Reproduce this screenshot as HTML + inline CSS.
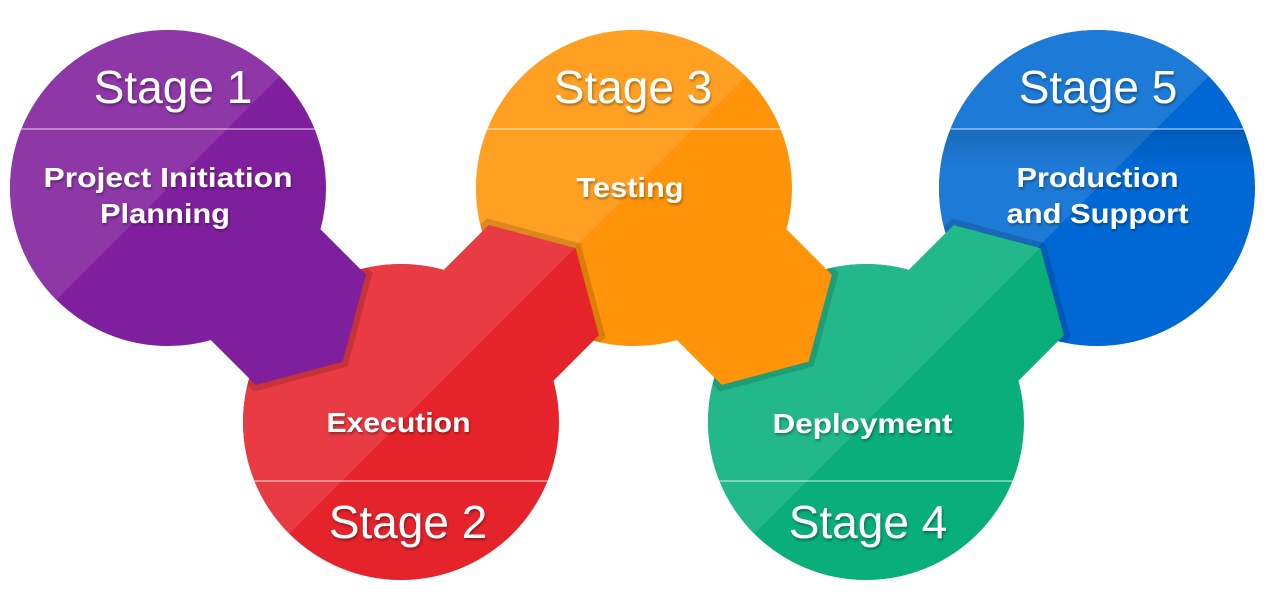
<!DOCTYPE html>
<html>
<head>
<meta charset="utf-8">
<style>
  html, body { margin:0; padding:0; background:#ffffff; width:1269px; height:610px; overflow:hidden; }
  svg { display:block; position:absolute; left:0; top:0; overflow:hidden; }
  .st { font-family:"Liberation Sans", sans-serif; font-size:46px; fill:#ffffff; text-anchor:middle; }
  .lb { font-family:"Liberation Sans", sans-serif; font-size:28px; font-weight:bold; fill:#ffffff; text-anchor:middle; }
</style>
</head>
<body>
<svg width="1269" height="610" viewBox="0 0 1269 610" xmlns="http://www.w3.org/2000/svg">
  <defs>
    <clipPath id="s1"><circle cx="168" cy="188" r="158"/><polygon points="302.3,211.1 365.9,274.7 342.6,361.6 255.7,384.9 192.1,321.3 215.4,234.4"/></clipPath>
    <clipPath id="s2"><circle cx="401" cy="422" r="158"/><polygon points="488.7,225.1 575.6,248.4 598.9,335.3 535.3,398.9 448.4,375.6 425.1,288.7"/></clipPath>
    <clipPath id="s3"><circle cx="634" cy="188" r="158"/><polygon points="768.3,211.1 831.9,274.7 808.6,361.6 721.7,384.9 658.1,321.3 681.4,234.4"/></clipPath>
    <clipPath id="s4"><circle cx="866" cy="422" r="158"/><polygon points="953.7,225.1 1040.6,248.4 1063.9,335.3 1000.3,398.9 913.4,375.6 890.1,288.7"/></clipPath>
    <clipPath id="s5"><circle cx="1097" cy="188" r="158"/></clipPath>
    <clipPath id="c2"><circle cx="401" cy="422" r="158"/></clipPath>
    <clipPath id="c3"><circle cx="634" cy="188" r="158"/></clipPath>
    <clipPath id="c4"><circle cx="866" cy="422" r="158"/></clipPath>
    <clipPath id="c5"><circle cx="1097" cy="188" r="158"/></clipPath>
    <linearGradient id="bshade" x1="0" y1="0" x2="0" y2="1">
      <stop offset="0" stop-color="#000" stop-opacity="0.12"/>
      <stop offset="1" stop-color="#000" stop-opacity="0"/>
    </linearGradient>
    <filter id="ds" x="-20%" y="-40%" width="140%" height="180%">
      <feDropShadow dx="1" dy="2" stdDeviation="1.3" flood-color="#000" flood-opacity="0.35"/>
    </filter>
  </defs>

  <!-- Stage 5 (blue) -->
  <g clip-path="url(#s5)">
    <rect x="935" y="26" width="324" height="324" fill="#0068d4"/>
    <polygon points="1297,-12 897,388 897,-12" fill="#1d7ad6"/>
    <rect x="935" y="129" width="324" height="40" fill="url(#bshade)"/>
    <line x1="935" y1="129" x2="1259" y2="129" stroke="#ffffff" stroke-opacity="0.55" stroke-width="1.5"/>
  </g>
  <g clip-path="url(#c5)">
    <polygon points="953.7,225.1 1040.6,248.4 1063.9,335.3 1000.3,398.9 913.4,375.6 890.1,288.7" fill="#000" fill-opacity="0.14" stroke="#000" stroke-opacity="0.14" stroke-width="12" stroke-linejoin="miter"/>
  </g>

  <!-- Stage 4 (green) -->
  <g clip-path="url(#s4)">
    <rect x="704" y="220" width="364" height="364" fill="#0aae79"/>
    <polygon points="1066,222 666,622 666,222" fill="#22b88a"/>
    <line x1="704" y1="481" x2="1030" y2="481" stroke="#ffffff" stroke-opacity="0.55" stroke-width="1.5"/>
  </g>
  <g clip-path="url(#c4)">
    <polygon points="768.3,211.1 831.9,274.7 808.6,361.6 721.7,384.9 658.1,321.3 681.4,234.4" fill="#000" fill-opacity="0.14" stroke="#000" stroke-opacity="0.14" stroke-width="12" stroke-linejoin="miter"/>
  </g>

  <!-- Stage 3 (orange) -->
  <g clip-path="url(#s3)">
    <rect x="472" y="26" width="364" height="364" fill="#ff930a"/>
    <polygon points="834,-12 434,388 434,-12" fill="#ffa022"/>
    <line x1="472" y1="129" x2="796" y2="129" stroke="#ffffff" stroke-opacity="0.55" stroke-width="1.5"/>
  </g>
  <g clip-path="url(#c3)">
    <polygon points="488.7,225.1 575.6,248.4 598.9,335.3 535.3,398.9 448.4,375.6 425.1,288.7" fill="#000" fill-opacity="0.14" stroke="#000" stroke-opacity="0.14" stroke-width="12" stroke-linejoin="miter"/>
  </g>

  <!-- Stage 2 (red) -->
  <g clip-path="url(#s2)">
    <rect x="239" y="220" width="364" height="364" fill="#e5232a"/>
    <polygon points="601,222 201,622 201,222" fill="#e83b43"/>
    <line x1="239" y1="481" x2="563" y2="481" stroke="#ffffff" stroke-opacity="0.55" stroke-width="1.5"/>
  </g>
  <g clip-path="url(#c2)">
    <polygon points="302.3,211.1 365.9,274.7 342.6,361.6 255.7,384.9 192.1,321.3 215.4,234.4" fill="#000" fill-opacity="0.14" stroke="#000" stroke-opacity="0.14" stroke-width="12" stroke-linejoin="miter"/>
  </g>

  <!-- Stage 1 (purple) -->
  <g clip-path="url(#s1)">
    <rect x="6" y="26" width="364" height="364" fill="#7f1f9e"/>
    <polygon points="368,-12 6,350 6,-12" fill="#8e37a7"/>
    <line x1="6" y1="129" x2="330" y2="129" stroke="#ffffff" stroke-opacity="0.55" stroke-width="1.5"/>
  </g>

  <!-- Text -->
  <g filter="url(#ds)">
    <text class="st" x="173" y="103">Stage 1</text>
    <text class="st" x="408" y="538">Stage 2</text>
    <text class="st" x="633" y="103">Stage 3</text>
    <text class="st" x="868" y="538">Stage 4</text>
    <text class="st" x="1098" y="103">Stage 5</text>

    <text class="lb" x="168" y="187" textLength="249" lengthAdjust="spacingAndGlyphs">Project Initiation</text>
    <text class="lb" x="165" y="223" textLength="130" lengthAdjust="spacingAndGlyphs">Planning</text>
    <text class="lb" x="398.5" y="432" textLength="144" lengthAdjust="spacingAndGlyphs">Execution</text>
    <text class="lb" x="630" y="197" textLength="107" lengthAdjust="spacingAndGlyphs">Testing</text>
    <text class="lb" x="862.5" y="433" textLength="180" lengthAdjust="spacingAndGlyphs">Deployment</text>
    <text class="lb" x="1097.5" y="187" textLength="162" lengthAdjust="spacingAndGlyphs">Production</text>
    <text class="lb" x="1097.5" y="223" textLength="182" lengthAdjust="spacingAndGlyphs">and Support</text>
  </g>
</svg>
</body>
</html>
